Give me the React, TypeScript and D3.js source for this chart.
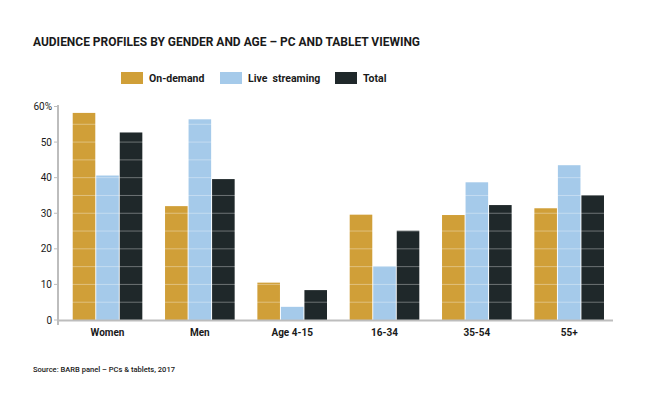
import { scaleBand, scaleLinear } from "d3";

const width = 665;
const height = 397;

const groups = ["Women", "Men", "Age 4-15", "16-34", "35-54", "55+"];
const seriesNames = ["On-demand", "Live  streaming", "Total"];
const onDemand = [58.2, 32, 10.5, 29.6, 29.5, 31.4];
const liveStreaming = [40.6, 56.4, 3.7, 15.1, 38.7, 43.5];
const total = [52.7, 39.6, 8.4, 25.1, 32.3, 35.1];
const yTicks = [0, 10, 20, 30, 40, 50, 60];
const gridValues = [5, 10, 15, 20, 25, 30, 35, 40, 45, 50, 55];

const colors = ["#D09F38", "#A5CAEA", "#1F282A"];
const font = "Roboto, 'Open Sans', sans-serif";

export default function App() {
  const series = [onDemand, liveStreaming, total];

  const xScale = scaleBand<string>()
    .domain(groups)
    .range([58, 613])
    .paddingInner(0.246)
    .paddingOuter(0.1285)
    .align(0.62);
  const inner = scaleBand<string>()
    .domain(seriesNames)
    .range([0, xScale.bandwidth()])
    .paddingInner(0.04);
  const yScale = scaleLinear().domain([0, 60]).range([320, 106.5]);

  const legendX = [121, 220, 335];

  return (
    <svg
      width={width}
      height={height}
      viewBox={`0 0 ${width} ${height}`}
      style={{ position: "absolute", left: 0, top: 0, background: "#fff" }}
      fontFamily={font}
    >
      <rect width={width} height={height} fill="#fff" />
      <text x={33} y={46} fontSize={12} fontWeight="bold" fill="#1a1a1a" textLength={387} lengthAdjust="spacingAndGlyphs">
        AUDIENCE PROFILES BY GENDER AND AGE – PC AND TABLET VIEWING
      </text>

      {/* legend */}
      {seriesNames.map((name, i) => (
        <g key={name} transform={`translate(${legendX[i]},72)`}>
          <rect width={22} height={12} fill={colors[i]} />
          <text x={28} y={10} fontSize={10.5} fontWeight="bold" fill="#1a1a1a" style={{ whiteSpace: "pre" }}>
            {name}
          </text>
        </g>
      ))}

      {/* bars */}
      {groups.map((g, gi) => (
        <g key={g} transform={`translate(${xScale(g)},0)`}>
          {series.map((vals, si) => (
            <rect
              key={si}
              x={inner(seriesNames[si])}
              y={yScale(vals[gi])}
              width={inner.bandwidth()}
              height={yScale(0) - yScale(vals[gi])}
              fill={colors[si]}
            />
          ))}
        </g>
      ))}

      {/* light grid lines that show over the bars */}
      {gridValues.map((v) => (
        <line
          key={v}
          x1={59}
          x2={612}
          y1={yScale(v)}
          y2={yScale(v)}
          stroke="#fff"
          strokeOpacity={0.35}
          strokeWidth={1}
        />
      ))}

      {/* axes */}
      <line x1={58} x2={58} y1={105} y2={325} stroke="#BDBDBD" strokeWidth={2} />
      <line x1={57} x2={613} y1={320.5} y2={320.5} stroke="#BDBDBD" strokeWidth={2} />
      {yTicks.map((t) => (
        <g key={t}>
          <line x1={54} x2={58} y1={yScale(t)} y2={yScale(t)} stroke="#BDBDBD" strokeWidth={1} />
          <text x={52} y={yScale(t)} dy="0.35em" textAnchor="end" fontSize={10} fill="#1a1a1a">
            {t === 60 ? "60%" : t}
          </text>
        </g>
      ))}
      {groups.map((g) => (
        <text
          key={g}
          x={(xScale(g) ?? 0) + xScale.bandwidth() / 2}
          y={336}
          textAnchor="middle"
          fontSize={10}
          fontWeight="bold"
          fill="#1a1a1a"
        >
          {g}
        </text>
      ))}

      <text x={33} y={372} fontSize={7.5} fontWeight={500} fill="#1a1a1a" textLength={142} lengthAdjust="spacingAndGlyphs">
        Source: BARB panel – PCs &amp; tablets, 2017
      </text>
    </svg>
  );
}
